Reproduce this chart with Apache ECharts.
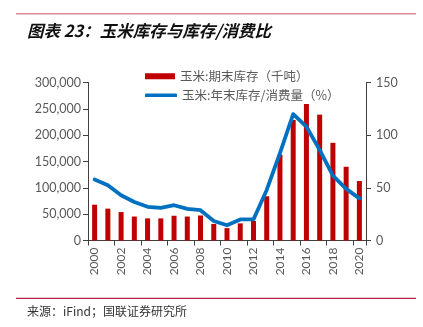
<!DOCTYPE html>
<html>
<head>
<meta charset="utf-8">
<script src="https://cdn.jsdelivr.net/npm/echarts@6/dist/echarts.min.js"></script>
<style>
  html, body { margin: 0; padding: 0; background: #fff; }
  #chart { width: 423px; height: 327px; }
</style>
</head>
<body>
<div id="chart"></div>
<script>
// Corn ending stocks (thousand tonnes) and stocks-to-use ratio (%), 2000–2020
const years = ['2000','2001','2002','2003','2004','2005','2006','2007','2008','2009','2010',
               '2011','2012','2013','2014','2015','2016','2017','2018','2019','2020'];
const endingStocks = [68000, 60500, 54000, 45500, 42000, 42000, 47000, 45500, 47500, 31500, 23500,
                      32500, 37000, 84000, 163000, 229000, 259000, 239000, 185500, 140000, 113000];
const stocksToUse = [58, 52.5, 43, 36.5, 32, 31, 33.5, 30, 28.8, 18.5, 14.5,
                     20, 20, 48, 83, 120, 108, 86, 61.5, 49, 40];
const leftTicks = { min: 0, max: 300000, interval: 50000 };
const rightTicks = { min: 0, max: 150, interval: 50 };

const NUM_FONT = 'Lato, "Liberation Sans", sans-serif';
const CJK_FONT = '"Noto Sans CJK SC", sans-serif';
const GRAY = '#595959';
const BAR_NAME = '玉米:期末库存（千吨）';
const LINE_NAME = '玉米:年末库存/消费量（%）';

const chart = echarts.init(document.getElementById('chart'), null, { renderer: 'canvas' });

chart.setOption({
  animation: false,
  backgroundColor: '#ffffff',
  grid: { left: 88, right: 57, top: 82.5, bottom: 86.5, containLabel: false },
  legend: [
    {
      left: 140, top: 65,
      itemWidth: 30, itemHeight: 6, itemGap: 5,
      textStyle: { color: GRAY, fontSize: 12.5, fontFamily: CJK_FONT },
      data: [{ name: BAR_NAME, icon: 'rect' }]
    },
    {
      left: 140, top: 84,
      itemWidth: 32, itemHeight: 3.5, itemGap: 5,
      textStyle: { color: GRAY, fontSize: 12.5, fontFamily: CJK_FONT },
      data: [{ name: LINE_NAME, icon: 'roundRect' }]
    }
  ],
  xAxis: {
    type: 'category',
    data: years,
    boundaryGap: true,
    axisLine: { lineStyle: { color: '#404040', width: 1 } },
    axisTick: { show: true, interval: 1, length: 5, lineStyle: { color: '#404040' } },
    axisLabel: {
      interval: 1, rotate: 90, color: GRAY, fontSize: 12, fontFamily: NUM_FONT, margin: 7
    }
  },
  yAxis: [
    {
      type: 'value',
      min: leftTicks.min, max: leftTicks.max, interval: leftTicks.interval,
      axisLine: { show: true, lineStyle: { color: '#404040' } },
      axisTick: { show: true, length: 5, lineStyle: { color: '#404040' } },
      splitLine: { show: false },
      axisLabel: {
        color: GRAY, fontSize: 12.5, fontFamily: NUM_FONT, margin: 7,
        formatter: v => v.toLocaleString('en-US')
      }
    },
    {
      type: 'value',
      min: rightTicks.min, max: rightTicks.max, interval: rightTicks.interval,
      position: 'right',
      axisLine: { show: true, lineStyle: { color: '#404040' } },
      axisTick: { show: true, length: 5, lineStyle: { color: '#404040' } },
      splitLine: { show: false },
      axisLabel: { color: GRAY, fontSize: 12.5, fontFamily: NUM_FONT, margin: 10 }
    }
  ],
  series: [
    {
      name: BAR_NAME,
      type: 'bar',
      data: endingStocks,
      yAxisIndex: 0,
      barWidth: 5,
      itemStyle: { color: '#C00000' }
    },
    {
      name: LINE_NAME,
      type: 'line',
      data: stocksToUse,
      yAxisIndex: 1,
      symbol: 'none',
      smooth: false,
      lineStyle: { color: '#0070C0', width: 3.8, cap: 'round', join: 'round' },
      itemStyle: { color: '#0070C0' }
    }
  ],
  graphic: [
    {
      type: 'line',
      shape: { x1: 16, y1: 13.7, x2: 416, y2: 13.7 },
      style: { stroke: '#E08898', lineWidth: 1.6 }
    },
    {
      type: 'text',
      left: 27, top: 22,
      style: {
        text: '图表 23：玉米库存与库存/消费比',
        fill: '#111111',
        font: 'italic bold 16.5px "Noto Sans CJK SC", sans-serif'
      }
    },
    {
      type: 'line',
      shape: { x1: 16, y1: 298.3, x2: 416, y2: 298.3 },
      style: { stroke: '#B5224A', lineWidth: 1.2 }
    },
    {
      type: 'text',
      left: 27, top: 305,
      style: {
        text: '来源：iFind；国联证券研究所',
        fill: '#333333',
        font: '12px "Noto Sans CJK SC", sans-serif'
      }
    }
  ]
});
</script>
</body>
</html>
